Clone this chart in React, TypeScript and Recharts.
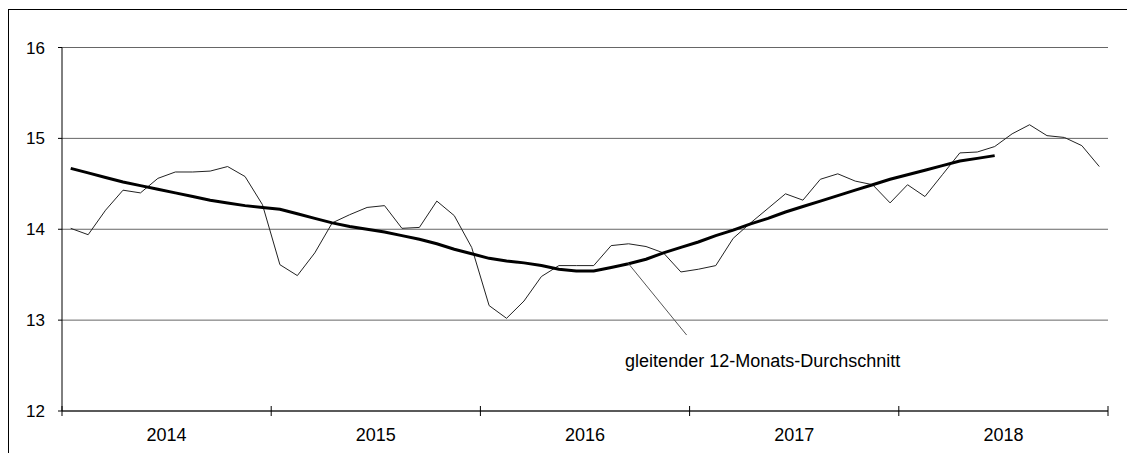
import React from 'react';
import {
  LineChart,
  Line,
  XAxis,
  YAxis,
  CartesianGrid,
  ReferenceLine,
  ReferenceDot,
} from 'recharts';

// Monthly values Jan 2014 – Dec 2018
const monthlyValues: number[] = [
  14.01, 13.94, 14.21, 14.43, 14.40, 14.56, 14.63, 14.63, 14.64, 14.69, 14.58, 14.27,
  13.61, 13.49, 13.74, 14.07, 14.16, 14.24, 14.26, 14.01, 14.02, 14.31, 14.15, 13.80,
  13.16, 13.02, 13.21, 13.48, 13.60, 13.60, 13.60, 13.82, 13.84, 13.81, 13.74, 13.53,
  13.56, 13.60, 13.90, 14.07, 14.23, 14.39, 14.32, 14.55, 14.61, 14.53, 14.49, 14.29,
  14.49, 14.36, 14.60, 14.84, 14.85, 14.91, 15.05, 15.15, 15.03, 15.01, 14.92, 14.69,
];

// Centred 12-month moving average (available Jan 2014 – Jun 2018)
const movingAverage: number[] = [
  14.67, 14.62, 14.57, 14.52, 14.48, 14.44, 14.40, 14.36, 14.32, 14.29, 14.26, 14.24,
  14.22, 14.17, 14.12, 14.07, 14.03, 14.00, 13.97, 13.93, 13.89, 13.84, 13.78, 13.73,
  13.68, 13.65, 13.63, 13.60, 13.56, 13.54, 13.54, 13.58, 13.62, 13.67, 13.74, 13.80,
  13.86, 13.93, 13.99, 14.06, 14.12, 14.19, 14.25, 14.31, 14.37, 14.43, 14.49, 14.55,
  14.60, 14.65, 14.70, 14.75, 14.78, 14.81,
];

const years: string[] = ['2014', '2015', '2016', '2017', '2018'];
const yTicks: number[] = [12, 13, 14, 15, 16];
const annotationText = 'gleitender 12-Monats-Durchschnitt';
// annotation anchor (month position, value) and pointer segment
const annotationAnchor = { x: 32.3, y: 12.479 };
const pointerSegment = [
  { x: 32.48, y: 13.625 },
  { x: 35.83, y: 12.836 },
];

const data = monthlyValues.map((v, i) => ({
  x: i + 0.5,
  v,
  ma: i < movingAverage.length ? movingAverage[i] : null,
}));

const xTicks: number[] = [];
for (let i = 0; i <= years.length * 12; i += 6) xTicks.push(i);

const FONT = '"Liberation Sans", Arial, sans-serif';

const XTick = (props: any) => {
  const { x, y, payload } = props;
  const v = payload.value as number;
  if (v % 12 === 0) {
    return <line x1={x} x2={x} y1={y - 5} y2={y + 5} stroke="#000" strokeWidth={1} />;
  }
  const label = years[Math.floor(v / 12)];
  return (
    <text x={x} y={y + 29.5} textAnchor="middle" fontSize={18} fontFamily={FONT} fill="#000">
      {label}
    </text>
  );
};

const AnnotationLabel = (props: any) => {
  const { cx, cy } = props;
  return (
    <text x={cx} y={cy} fontSize={18} fontFamily={FONT} fill="#000">
      {annotationText}
    </text>
  );
};

export default function App() {
  return (
    <div
      style={{
        position: 'fixed',
        left: 8,
        top: 9,
        width: 1125,
        height: 444,
        borderTop: '1px solid #000',
        borderLeft: '1px solid #000',
        boxSizing: 'border-box',
        background: '#fff',
        overflow: 'hidden',
      }}
    >
      <LineChart
        width={1118}
        height={443}
        data={data}
        margin={{ top: 37.5, right: 19, bottom: 0, left: 0 }}
      >
        <CartesianGrid vertical={false} stroke="#666" strokeWidth={1} />
        <XAxis
          dataKey="x"
          type="number"
          domain={[0, 60]}
          ticks={xTicks}
          interval={0}
          height={42}
          tickSize={0}
          tickMargin={0}
          tickLine={false}
          axisLine={{ stroke: '#000', strokeWidth: 1 }}
          tick={<XTick />}
        />
        <YAxis
          type="number"
          domain={[12, 16]}
          ticks={yTicks}
          interval={0}
          width={53}
          tickSize={4}
          tickMargin={13}
          axisLine={{ stroke: '#000', strokeWidth: 1 }}
          tickLine={{ stroke: '#000', strokeWidth: 1 }}
          tick={{ fontSize: 17, fontFamily: FONT, fill: '#000' }}
        />
        <Line
          type="linear"
          dataKey="v"
          stroke="#222"
          strokeWidth={1}
          dot={false}
          isAnimationActive={false}
        />
        <Line
          type="linear"
          dataKey="ma"
          stroke="#000"
          strokeWidth={3}
          dot={false}
          connectNulls={false}
          isAnimationActive={false}
        />
        <ReferenceLine segment={pointerSegment} stroke="#555" strokeWidth={1} />
        <ReferenceDot
          x={annotationAnchor.x}
          y={annotationAnchor.y}
          r={0}
          shape={<AnnotationLabel />}
        />
      </LineChart>
    </div>
  );
}
